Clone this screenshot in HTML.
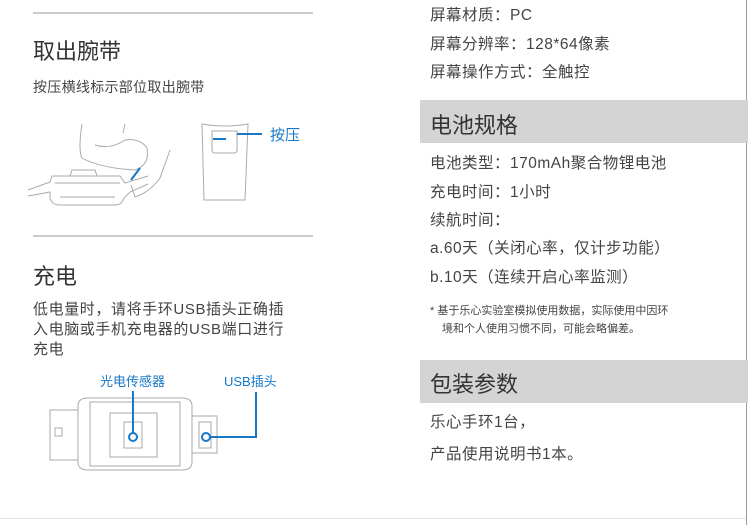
<!DOCTYPE html><html><head><meta charset="utf-8"><style>
body{margin:0;width:748px;height:525px;background:#fff;position:relative;overflow:hidden;font-family:"Liberation Sans","Noto Sans CJK SC",sans-serif;color:#444}
.t{position:absolute;white-space:nowrap}
.r{font-size:15.5px;letter-spacing:0.5px}
.band{position:absolute;left:420px;width:328px;background:#d3d4d3}
</style></head><body>
<div style="position:absolute;left:33px;top:12px;width:280px;height:2px;background:#ccc"></div>
<div style="position:absolute;left:746px;top:0;width:1px;height:525px;background:#999"></div>
<div style="position:absolute;left:0;top:518px;width:746px;height:1px;background:#e3e3e3"></div>
<div class="t" style="left:33px;top:34px;font-size:22px;color:#333">取出腕带</div>
<div class="t" style="left:33px;top:77px;font-size:14px;letter-spacing:0.3px">按压横线标示部位取出腕带</div>
<div style="position:absolute;left:33px;top:235px;width:280px;height:2px;background:#ccc"></div>
<div class="t" style="left:33px;top:259px;font-size:22px;color:#333">充电</div>
<div class="t" style="left:33px;top:300px;font-size:15px;line-height:20px;letter-spacing:0.6px">低电量时，请将手环USB插头正确插<br>入电脑或手机充电器的USB端口进行<br>充电</div>
<svg style="position:absolute;left:0;top:0" width="420" height="525">
<g fill="none" stroke="#aaa" stroke-width="1">
<path d="M82 124 Q78 150 82 158 Q100 168 135 170 Q150 165 147 148 Q140 138 125 140 Q110 150 95 145 M125 124 L123 133"/>
<path d="M28 190 L50 182 L52 176 L120 176 L125 183 L148 176 M28 196 L50 192 L50 198 Q52 205 60 205 L115 205 Q122 205 124 198 L130 192 L148 184"/>
<path d="M55 183 L120 183 M60 197 L115 197 M70 176 L72 170 L95 170 L97 176"/>
<path d="M131 185 L135 197 Q150 192 160 178 L170 150"/>
<path d="M202 124 Q225 128 248 124 L245 200 L204 200 Z M212 131 L237 131 L237 150 Q237 153 234 153 L215 153 Q212 153 212 150 Z"/>
<path d="M50 410 L78 410 L78 460 L50 460 Z M78 406 Q78 398 88 398 L182 398 Q192 398 192 406 L192 462 Q192 470 182 470 L88 470 Q78 470 78 462 Z M90 402 L180 402 L180 466 L90 466 Z M110 413 L157 413 L157 457 L110 457 Z M192 416 L217 416 L217 453 L192 453 Z"/>
<path d="M55 428 L62 428 L62 436 L55 436 Z M124 422 L142 422 L142 448 L124 448 Z M199 422 L211 422 L211 448 L199 448 Z"/>
</g>
<g stroke="#1878c8" stroke-width="2" fill="none">
<path d="M213 139 L226 139 M237 134 L262 134"/>
<path d="M131 180 L140 168"/>
<path d="M133 391 L133 433 M210 437 L256 437 L256 392"/>
<circle cx="133" cy="437" r="4" fill="#fff"/><circle cx="206" cy="437" r="4" fill="#fff"/>
</g>
</svg>
<div class="t" style="left:270px;top:124px;font-size:15px;color:#1878c8">按压</div>
<div class="t" style="left:100px;top:371px;font-size:13px;color:#1878c8">光电传感器</div>
<div class="t" style="left:224px;top:371px;font-size:13px;color:#1878c8">USB插头</div>
<div class="t r" style="left:430px;top:3px">屏幕材质：PC</div>
<div class="t r" style="left:430px;top:32px">屏幕分辨率：128*64像素</div>
<div class="t r" style="left:430px;top:60px">屏幕操作方式：全触控</div>
<div class="band" style="top:100px;height:43px"></div>
<div class="t" style="left:430px;top:108px;font-size:22px;color:#333">电池规格</div>
<div class="t r" style="left:430px;top:151px">电池类型：170mAh聚合物锂电池</div>
<div class="t r" style="left:430px;top:180px">充电时间：1小时</div>
<div class="t r" style="left:430px;top:208px">续航时间：</div>
<div class="t r" style="left:430px;top:236px">a.60天（关闭心率，仅计步功能）</div>
<div class="t r" style="left:430px;top:265px">b.10天（连续开启心率监测）</div>
<div class="t" style="left:430px;top:302px;font-size:11px">* 基于乐心实验室模拟使用数据，实际使用中因环</div>
<div class="t" style="left:442px;top:320px;font-size:11px">境和个人使用习惯不同，可能会略偏差。</div>
<div class="band" style="top:360px;height:43px"></div>
<div class="t" style="left:430px;top:367px;font-size:22px;color:#333">包装参数</div>
<div class="t r" style="left:430px;top:410px">乐心手环1台，</div>
<div class="t r" style="left:430px;top:442px">产品使用说明书1本。</div>
</body></html>
